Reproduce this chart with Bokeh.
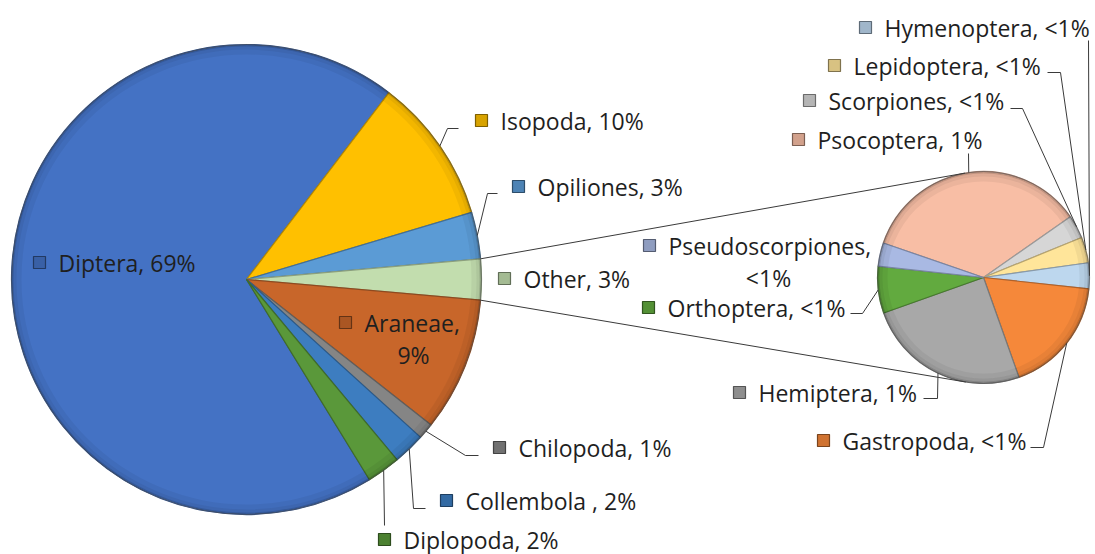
import math
from bokeh.plotting import figure
from bokeh.models import Range1d, ColumnDataSource
from bokeh.core.properties import value
from bokeh.embed import file_html
from bokeh.resources import INLINE

# ---------------- data ----------------
main_categories = ["Diptera", "Isopoda", "Opiliones", "Other", "Araneae",
                   "Chilopoda", "Collembola", "Diplopoda"]
main_values = [69.0, 10.0, 3.2, 2.8, 9.2, 1.1, 2.2, 2.3]
main_labels = ["Diptera, 69%", "Isopoda, 10%", "Opiliones, 3%", "Other, 3%",
               "Araneae,\n9%", "Chilopoda, 1%", "Collembola , 2%", "Diplopoda, 2%"]

sec_categories = ["Psocoptera", "Scorpiones", "Lepidoptera", "Hymenoptera",
                  "Gastropoda", "Hemiptera", "Orthoptera", "Pseudoscorpiones"]
sec_values = [0.98, 0.10, 0.11, 0.11, 0.50, 0.70, 0.20, 0.10]
sec_labels = ["Psocoptera, 1%", "Scorpiones, <1%", "Lepidoptera, <1%",
              "Hymenoptera, <1%", "Gastropoda, <1%", "Hemiptera, 1%",
              "Orthoptera, <1%", "Pseudoscorpiones,\n<1%"]

# ---------------- style / layout ----------------
main_colors = ["#4472C4", "#FFC000", "#5B9BD5", "#C2DDAE", "#C8662A",
               "#858585", "#3D7DC0", "#5A983A"]
sec_colors = ["#F8BEA5", "#D6D6D6", "#FFE59A", "#BDD7EE", "#F5883A",
              "#A8A8A8", "#62AA3F", "#A9B9E3"]

W, H = 1095, 554  # canvas size (layout y values are given top-down)
MAIN_C = (246, 279)
MAIN_R = 235
SEC_C = (983, 277)
SEC_R = 106
SEC_START_DEG = 161.0

# label layout: text start x, text centre y (top-down px), elbow points of leader
main_layout = {
    "Diptera":    dict(x=58,  y=262, leader=None),
    "Isopoda":    dict(x=500, y=120, leader=[(447, 128), (458, 128)]),
    "Opiliones":  dict(x=537, y=186, leader=[(487, 193), (497, 193)]),
    "Other":      dict(x=523, y=278, leader=None),
    "Araneae":    dict(x=364, y=322, leader=None, dx2=49),
    "Chilopoda":  dict(x=518, y=447, leader=[(465, 455), (478, 455)]),
    "Collembola": dict(x=465, y=500, leader=[(413, 508), (425, 508)]),
    "Diplopoda":  dict(x=403, y=539, leader=[(384, 525)]),
}
sec_layout = {
    "Psocoptera":       dict(x=817, y=139, leader=[(968, 153)]),
    "Scorpiones":       dict(x=828, y=100, leader=[(1022, 108), (1010, 108)]),
    "Lepidoptera":      dict(x=853, y=65,  leader=[(1060, 72), (1047, 72)]),
    "Hymenoptera":      dict(x=884, y=27,  leader=[(1088, 40)]),
    "Gastropoda":       dict(x=842, y=440, leader=[(1043, 447), (1030, 447)]),
    "Hemiptera":        dict(x=758, y=392, leader=[(937, 398), (923, 398)]),
    "Orthoptera":       dict(x=667, y=307, leader=[(862, 313), (850, 313)]),
    "Pseudoscorpiones": dict(x=668, y=245, leader=None, dx2=100),
}

FONT = value("Open Sans")
FSIZE = "23px"
TEXT_COLOR = "#1f1f1f"
LINE_COLOR = "#3a3a3a"


def Y(py):
    return H - py


def darken(hexc, f=0.72):
    h = hexc.lstrip("#")
    r, g, b = (int(h[i:i + 2], 16) for i in (0, 2, 4))
    return "#%02x%02x%02x" % (int(r * f), int(g * f), int(b * f))


def slices(values, start_deg):
    """clockwise slices from start_deg; returns list of (a_start, a_end) degrees"""
    tot = sum(values)
    out = []
    a = start_deg
    for v in values:
        span = v / tot * 360.0
        out.append((a, a - span))
        a -= span
    return out


p = figure(width=W, height=H, x_range=Range1d(0, W), y_range=Range1d(0, H),
           output_backend="svg", toolbar_location=None, min_border=0)
p.axis.visible = False
p.grid.visible = False
p.outline_line_color = None
p.background_fill_color = "white"
p.border_fill_color = "white"

# ---- main pie angles: Other centred on 0 deg ----
tot_main = sum(main_values)
oi = main_categories.index("Other")
main_offset = (sum(main_values[:oi]) + main_values[oi] / 2) / tot_main * 360.0
main_angles = slices(main_values, main_offset)
sec_angles = slices(sec_values, SEC_START_DEG)


def draw_pie(center, radius, angles, colors):
    cx, cy = center[0], Y(center[1])
    src = ColumnDataSource(dict(
        x=[cx] * len(angles), y=[cy] * len(angles),
        s=[math.radians(e) for (_, e) in angles],
        e=[math.radians(s) for (s, _) in angles],
        c=colors, lc=[darken(c) for c in colors]))
    p.wedge(x="x", y="y", radius=radius, start_angle="s", end_angle="e",
            fill_color="c", line_color="lc", line_width=1.2, source=src)
    # rim shading (bevel look)
    for r0, r1, a in [(radius - 10, radius - 5, 0.05), (radius - 5, radius - 2, 0.10),
                      (radius - 2, radius, 0.22)]:
        p.annular_wedge(x=cx, y=cy, inner_radius=r0, outer_radius=r1,
                        start_angle=0, end_angle=2 * math.pi,
                        fill_color="black", fill_alpha=a, line_color=None)
    p.circle(x=cx, y=cy, radius=radius, fill_color=None, line_color="#5a5a5a",
             line_alpha=0.5, line_width=1)


draw_pie(MAIN_C, MAIN_R, main_angles, main_colors)
draw_pie(SEC_C, SEC_R, sec_angles, sec_colors)


def rim_point(center, radius, deg):
    return (center[0] + radius * math.cos(math.radians(deg)),
            Y(center[1]) + radius * math.sin(math.radians(deg)))


# ---- connector lines (from Other slice edges, tangent to secondary pie) ----
o_start, o_end = main_angles[oi]
sx, sy = SEC_C[0], Y(SEC_C[1])
for deg, sign in [(o_start, 1), (o_end, -1)]:
    px_, py_ = rim_point(MAIN_C, MAIN_R, deg)
    dx, dy = px_ - sx, py_ - sy
    d = math.hypot(dx, dy)
    base = math.atan2(dy, dx)
    t = base - sign * math.acos(SEC_R / d)
    tx, ty = sx + SEC_R * math.cos(t), sy + SEC_R * math.sin(t)
    p.line([px_, tx], [py_, ty], line_color=LINE_COLOR, line_width=1)


# ---- labels ----
def draw_labels(categories, labels, angles, colors, layout, center, radius):
    for cat, lab, (a0, a1), col in zip(categories, labels, angles, colors):
        L = layout[cat]
        if L["leader"]:
            mid = (a0 + a1) / 2
            rx, ry = rim_point(center, radius, mid)
            xs = [rx] + [q[0] for q in L["leader"]]
            ys = [ry] + [Y(q[1]) for q in L["leader"]]
            p.line(xs, ys, line_color=LINE_COLOR, line_width=1)
        lines = lab.split("\n")
        tx, ty = L["x"], Y(L["y"])
        p.scatter(x=[tx - 19], y=[ty], marker="square", size=12,
                  fill_color=darken(col, 0.85), line_color=darken(col, 0.5),
                  line_width=1.2)
        p.text(x=[tx], y=[ty], text=[lines[0]], text_font=FONT,
               text_font_size=FSIZE, text_color=TEXT_COLOR,
               text_align="left", text_baseline="middle")
        if len(lines) > 1:
            # second line centred under the first
            p.text(x=[tx], y=[ty - 32], text=[lines[1]], text_font=FONT,
                   text_font_size=FSIZE, text_color=TEXT_COLOR,
                   text_align="center", text_baseline="middle",
                   x_offset=L.get("dx2", 0))


draw_labels(main_categories, main_labels, main_angles, main_colors, main_layout, MAIN_C, MAIN_R)
draw_labels(sec_categories, sec_labels, sec_angles, sec_colors, sec_layout, SEC_C, SEC_R)

open("out.html", "w").write(file_html(p, INLINE))
